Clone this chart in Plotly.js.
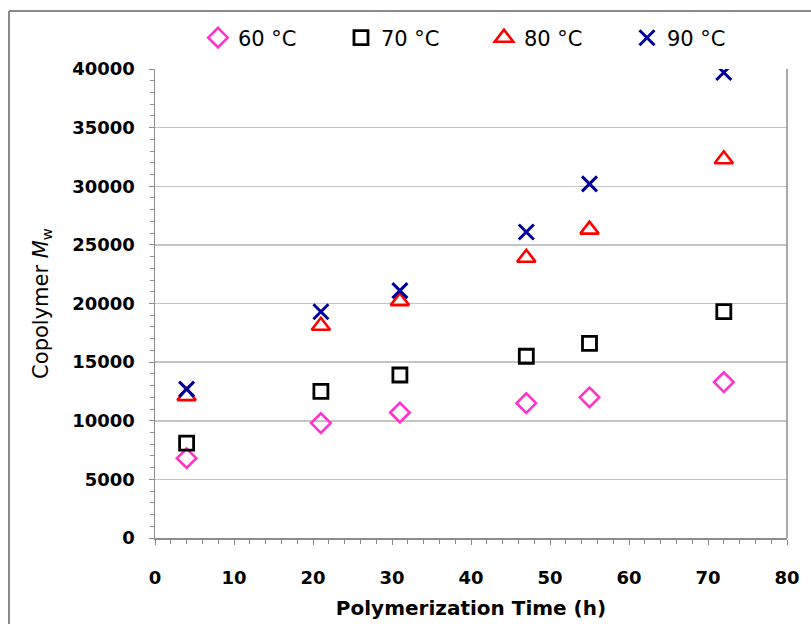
<!DOCTYPE html>
<html>
<head>
<meta charset="utf-8">
<script src="https://cdn.plot.ly/plotly-3.0.1.min.js"></script>
<style>html,body{margin:0;padding:0;background:#fff;}#chart{width:811px;height:624px;}</style>
</head>
<body>
<div id="chart"></div>
<script>
// Polymerization time (h)
const timeH = [4, 21, 31, 47, 55, 72];
// Copolymer Mw at each temperature
const mw60 = [6800, 9800, 10700, 11500, 12000, 13300];
const mw70 = [8100, 12500, 13900, 15500, 16600, 19300];
const mw80 = [12100, 18100, 20200, 23900, 26300, 32300];
const mw90 = [12700, 19300, 21100, 26100, 30200, 39700];
const seriesNames = ['60 °C', '70 °C', '80 °C', '90 °C'];
const xTicks = [0, 10, 20, 30, 40, 50, 60, 70, 80];
const yTicks = [0, 5000, 10000, 15000, 20000, 25000, 30000, 35000, 40000];

const mk = (y, name, symbol, color, size, lw) => ({
  x: timeH, y: y, name: name, type: 'scatter', mode: 'markers',
  marker: {symbol: symbol, size: size, color: color, line: {color: color, width: lw}}
});

const traces = [
  mk(mw60, seriesNames[0], 'diamond-open', '#ff33cc', 15, 2.6),
  mk(mw70, seriesNames[1], 'square-open', '#000000', 14, 2.8),
  mk(mw80, seriesNames[2], 'triangle-up-open', '#ff0000', 16, 2.6),
  mk(mw90, seriesNames[3], 'x-thin', '#000099', 15, 3)
];

const axisGrey = '#8c8c8c';
const layout = {
  width: 811, height: 624,
  margin: {l: 155, r: 24, t: 69, b: 86},
  paper_bgcolor: '#ffffff', plot_bgcolor: '#ffffff',
  showlegend: true,
  legend: {
    orientation: 'h', x: 0.068, xanchor: 'left', y: 1.066, yanchor: 'middle',
    font: {family: 'DejaVu Sans', size: 21, color: '#000'},
    entrywidth: 98, entrywidthmode: 'pixels', itemwidth: 30
  },
  xaxis: {
    range: [0, 80], tickvals: xTicks, ticktext: xTicks.map(String),
    showgrid: false, zeroline: false,
    showline: true, linecolor: axisGrey, linewidth: 1.5,
    mirror: false,
    ticks: 'outside', ticklen: 5, tickcolor: axisGrey, tickwidth: 1,
    minor: {dtick: 2, ticks: 'outside', ticklen: 4, tickcolor: axisGrey, showgrid: false},
    ticklabelstandoff: 18,
    tickfont: {family: 'DejaVu Sans', size: 18, color: '#000', weight: 'bold'},
    title: {text: 'Polymerization Time (h)', font: {family: 'DejaVu Sans', size: 20, color: '#000', weight: 'bold'}, standoff: 14}
  },
  yaxis: {
    range: [0, 40000], tickvals: yTicks, ticktext: yTicks.map(String),
    showgrid: true, gridcolor: '#c4c4c4', gridwidth: 1.5, zeroline: false,
    showline: true, linecolor: axisGrey, linewidth: 1.5,
    ticks: 'outside', ticklen: 5, tickcolor: axisGrey, tickwidth: 1,
    minor: {dtick: 1000, ticks: 'outside', ticklen: 4, tickcolor: axisGrey, showgrid: false},
    ticklabelstandoff: 10,
    tickfont: {family: 'DejaVu Sans', size: 18, color: '#000', weight: 'bold'},
    title: {text: 'Copolymer <i>M</i><sub>w</sub>', font: {family: 'DejaVu Sans', size: 21, color: '#000'}, standoff: 18}
  },
  shapes: [
    {type: 'line', xref: 'paper', yref: 'paper', x0: 1.0, x1: 1.0, y0: 0, y1: 1.0, line: {color: axisGrey, width: 1.5}},
    {type: 'line', xref: 'paper', yref: 'paper', x0: -0.231, x1: 1.1, y0: 1.1237, y1: 1.1237, line: {color: '#8a8a8a', width: 2}},
    {type: 'line', xref: 'paper', yref: 'paper', x0: -0.231, x1: -0.231, y0: 1.1237, y1: -0.3, line: {color: '#8a8a8a', width: 2}}
  ]
};

Plotly.newPlot('chart', traces, layout, {displayModeBar: false, staticPlot: true});
</script>
</body>
</html>
